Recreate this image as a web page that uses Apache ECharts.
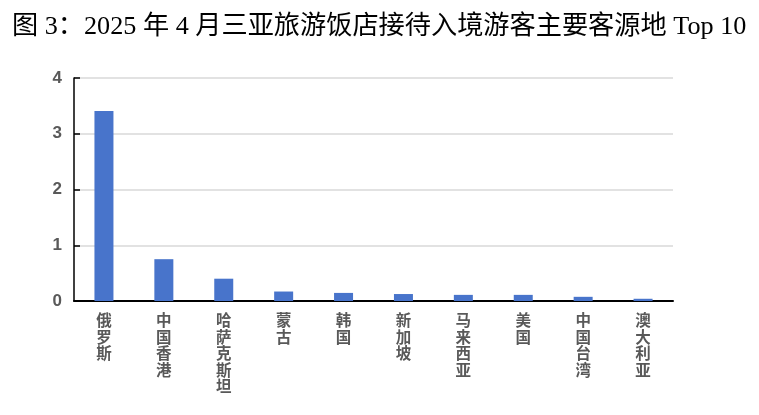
<!DOCTYPE html>
<html>
<head>
<meta charset="utf-8">
<script src="https://cdn.jsdelivr.net/npm/echarts@6/dist/echarts.min.js"></script>
<style>
  html, body { margin: 0; padding: 0; background: #fff; }
  #chart { width: 759px; height: 415px; }
</style>
</head>
<body>
<div id="chart"></div>
<script>
var titleText = '图 3：2025 年 4 月三亚旅游饭店接待入境游客主要客源地 Top 10';
var categories = ['俄罗斯', '中国香港', '哈萨克斯坦', '蒙古', '韩国', '新加坡', '马来西亚', '美国', '中国台湾', '澳大利亚'];
var values = [3.41, 0.75, 0.40, 0.17, 0.145, 0.125, 0.11, 0.11, 0.075, 0.04];
var yTicks = [0, 1, 2, 3, 4];

var myChart = echarts.init(document.getElementById('chart'));

var option = {
    animation: false,
    title: {
        text: titleText,
        left: 12,
        top: 14,
        padding: 0,
        textStyle: {
            fontFamily: '"Liberation Serif", "Noto Sans CJK SC", serif',
            fontWeight: 'normal',
            fontSize: 26.2,
            color: '#000'
        }
    },
    grid: {
        left: 74,
        right: 86,
        top: 78,
        bottom: 114
    },
    xAxis: {
        type: 'category',
        data: categories,
        axisTick: { show: false },
        axisLine: {
            show: true,
            lineStyle: { color: '#000', width: 2 }
        },
        axisLabel: {
            interval: 0,
            margin: 11,
            color: '#595959',
            fontWeight: 'bold',
            fontSize: 15.5,
            lineHeight: 16.5,
            fontFamily: '"Noto Sans CJK SC", sans-serif',
            verticalAlign: 'top',
            formatter: function (v) {
                return v.split('').join('\n');
            }
        }
    },
    yAxis: {
        type: 'value',
        min: yTicks[0],
        max: yTicks[yTicks.length - 1],
        interval: 1,
        axisLine: {
            show: true,
            lineStyle: { color: '#000', width: 1.5 }
        },
        axisTick: {
            show: true,
            inside: true,
            length: 6,
            lineStyle: { color: '#000', width: 1.5 }
        },
        splitLine: {
            show: true,
            lineStyle: { color: '#d9d9d9', width: 1.5 }
        },
        axisLabel: {
            margin: 12,
            color: '#595959',
            fontWeight: 'bold',
            fontSize: 17,
            fontFamily: 'Arial, "Liberation Sans", sans-serif'
        }
    },
    series: [
        {
            type: 'bar',
            data: values,
            barWidth: 19,
            itemStyle: { color: '#4874cb' }
        }
    ]
};
myChart.setOption(option);
</script>
</body>
</html>
